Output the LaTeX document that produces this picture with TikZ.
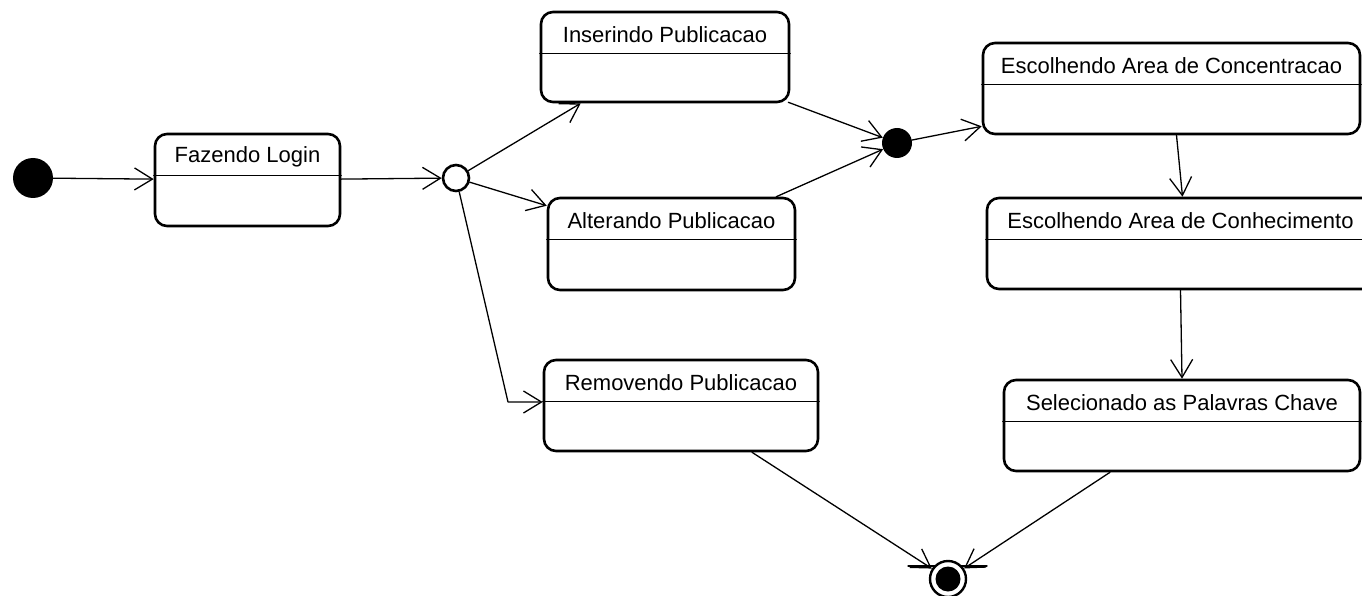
\documentclass[tikz,border=0pt]{standalone}
\usepackage{fontspec}
\setmainfont{Liberation Sans}
\usetikzlibrary{arrows.meta,calc}

\begin{document}
\begin{tikzpicture}[x=1pt,y=-1pt,line cap=round,line join=round,
  >={Straight Barb[length=18pt,width=22pt]},
  state/.style={draw,line width=2.6pt,rounded corners=12pt,inner sep=0pt,fill=white},
  statename/.style={font=\fontsize{22}{26}\selectfont,inner sep=0pt},
  divider/.style={line width=1.3pt},
  flow/.style={->,line width=1.3pt}]
\useasboundingbox (0,0) rectangle (1362,596);
\fill[white] (0,0) rectangle (1362,596);

\node[circle,fill,inner sep=0pt,minimum size=40pt] (start) at (33,178) {};
\node[circle,draw,line width=2.6pt,fill=white,inner sep=0pt,minimum size=26pt] (fork) at (456,178) {};
\node[circle,fill,inner sep=0pt,minimum size=30pt] (join) at (897,143) {};

\node[state,minimum width=185pt,minimum height=92pt] (login) at (247.5,180) {};
\node[statename] (loginname) at ($(login.north)+(0,24)$) {Fazendo Login};
\draw[divider] ($(login.north west)+(0,43)$) -- ($(login.north east)+(0,43)$);

\node[state,minimum width=248pt,minimum height=90pt] (ins) at (665,57) {};
\node[statename] (insname) at ($(ins.north)+(0,24)$) {Inserindo Publicacao};
\draw[divider] ($(ins.north west)+(0,43)$) -- ($(ins.north east)+(0,43)$);

\node[state,minimum width=247pt,minimum height=92pt] (alt) at (671.5,244) {};
\node[statename] (altname) at ($(alt.north)+(0,24)$) {Alterando Publicacao};
\draw[divider] ($(alt.north west)+(0,43)$) -- ($(alt.north east)+(0,43)$);

\node[state,minimum width=274pt,minimum height=91pt] (rem) at (681,405.5) {};
\node[statename] (remname) at ($(rem.north)+(0,24)$) {Removendo Publicacao};
\draw[divider] ($(rem.north west)+(0,43)$) -- ($(rem.north east)+(0,43)$);

\node[state,minimum width=377pt,minimum height=91pt] (conc) at (1171.5,88.5) {};
\node[statename] (concname) at ($(conc.north)+(0,24)$) {Escolhendo Area de Concentracao};
\draw[divider] ($(conc.north west)+(0,43)$) -- ($(conc.north east)+(0,43)$);

\node[state,minimum width=387pt,minimum height=91pt] (conh) at (1180.5,243.5) {};
\node[statename] (conhname) at ($(conh.north)+(0,24)$) {Escolhendo Area de Conhecimento};
\draw[divider] ($(conh.north west)+(0,43)$) -- ($(conh.north east)+(0,43)$);

\node[state,minimum width=356pt,minimum height=91pt] (sel) at (1182,425.5) {};
\node[statename] (selname) at ($(sel.north)+(0,24)$) {Selecionado as Palavras Chave};
\draw[divider] ($(sel.north west)+(0,43)$) -- ($(sel.north east)+(0,43)$);

\coordinate (endpt) at (948,579);
\draw[line width=1.3pt] ($(endpt)+(-40,-13)$) -- ($(endpt)+(39,-13)$);
\node[circle,draw,line width=2.4pt,fill=white,inner sep=0pt,minimum size=36pt] (end) at (endpt) {};
\node[circle,fill,inner sep=0pt,minimum size=25pt] (endcore) at (endpt) {};

\coordinate (bend) at (508,402);

\draw[flow] (start) -- (login);
\draw[flow] (login) -- (fork);
\draw[flow] (fork) -- ($(ins.south west)+(41,0)$);
\draw[flow] (fork) -- ($(alt.north west)+(0,9)$);
\draw[flow] (fork) -- (bend) -- (bend -| rem.west);
\draw[flow] ($(ins.south east)+(-2,-1)$) -- (join);
\draw[flow] ($(alt.north east)+(-20,0)$) -- (join);
\draw[flow] (join) -- ($(conc.south west)+(0,-9)$);
\draw[flow] ($(conc.south)+(5,0)$) -- ($(conh.north)+(2,0)$);
\draw[flow] (conh.south) -- (sel.north);
\draw[flow] ($(rem.south)+(71,0)$) -- (end);
\draw[flow] ($(sel.south)+(-72,0)$) -- (end);
\end{tikzpicture}
\end{document}
